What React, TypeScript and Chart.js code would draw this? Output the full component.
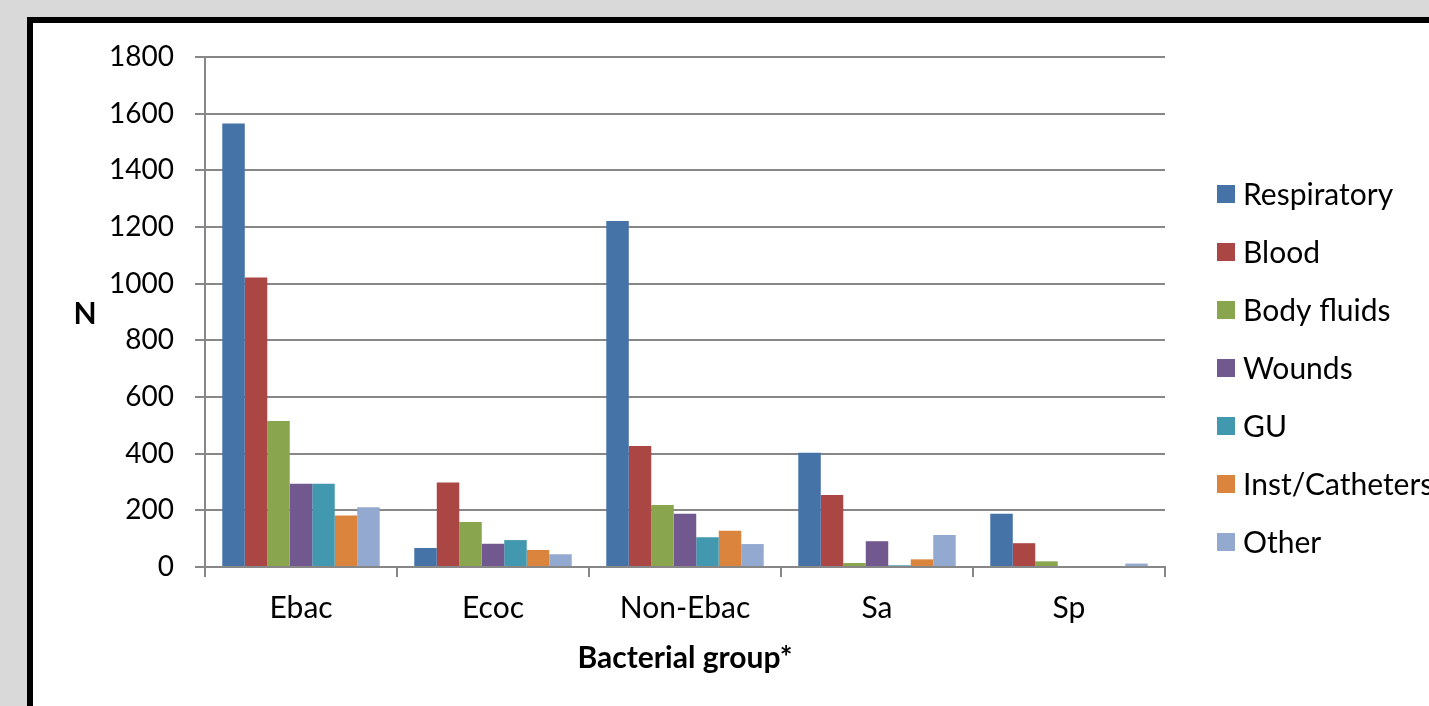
import React, { useEffect, useRef } from "react";
import { Chart, registerables } from "chart.js";

Chart.register(...registerables);

// ---- data ----
const categories = ["Ebac", "Ecoc", "Non-Ebac", "Sa", "Sp"];
const seriesNames = ["Respiratory", "Blood", "Body fluids", "Wounds", "GU", "Inst/Catheters", "Other"];
const respiratory = [1565, 67, 1221, 403, 188];
const blood = [1022, 298, 427, 254, 84];
const bodyFluids = [515, 159, 219, 14, 20];
const wounds = [294, 82, 188, 91, 0];
const gu = [294, 95, 105, 6, 0];
const instCatheters = [182, 60, 128, 27, 0];
const other = [211, 45, 81, 113, 12];
const seriesValues = [respiratory, blood, bodyFluids, wounds, gu, instCatheters, other];
const seriesColors = ["#4572A7", "#AA4643", "#89A54E", "#71588F", "#4198AF", "#DB843D", "#93A9CF"];
const yMin = 0;
const yMax = 1800;
const yStep = 200;
const yTitle = "N";
const xTitle = "Bacterial group*";

// ---- styling ----
const FONT = "Lato, 'Noto Sans', sans-serif";
const FS = 30;
const GRID = "#878787";

const sidePlugin = {
  id: "sideLegendAndYTitle",
  afterDraw(chart: any) {
    const ctx = chart.ctx;
    ctx.save();
    ctx.textBaseline = "middle";
    chart.data.datasets.forEach((ds: any, i: number) => {
      const cy = 194 + i * 58;
      ctx.fillStyle = ds.backgroundColor;
      ctx.fillRect(1217, cy - 9, 18, 18);
      ctx.fillStyle = "#000";
      ctx.font = `${FS}px ${FONT}`;
      ctx.textAlign = "left";
      ctx.fillText(ds.label, 1243, cy + 1);
    });
    ctx.font = `bold ${FS}px ${FONT}`;
    ctx.textAlign = "center";
    ctx.fillStyle = "#000";
    ctx.fillText(yTitle, 85, 314);
    ctx.restore();
  },
};

export default function App() {
  const ref = useRef<HTMLCanvasElement>(null);
  useEffect(() => {
    const canvas = ref.current!;
    const chart = new Chart(canvas, {
      type: "bar",
      data: {
        labels: categories,
        datasets: seriesNames.map((name, i) => ({
          label: name,
          data: seriesValues[i],
          backgroundColor: seriesColors[i],
          borderWidth: 0,
          categoryPercentage: 0.82,
          barPercentage: 1.0,
        })),
      },
      plugins: [sidePlugin],
      options: {
        responsive: false,
        animation: false,
        devicePixelRatio: 1,
        layout: { padding: { left: 0, right: 264, top: 57, bottom: 0 } },
        plugins: { legend: { display: false }, tooltip: { enabled: false } },
        scales: {
          x: {
            afterFit: (s: any) => { s.height = 139; },
            grid: { display: true, drawOnChartArea: false, tickLength: 10, color: GRID, lineWidth: 2, offset: true },
            border: { display: true, color: GRID, width: 2 },
            ticks: { color: "#000", font: { family: FONT, size: FS }, padding: 13 },
            title: {
              display: true,
              text: xTitle,
              color: "#000",
              font: { family: FONT, size: FS, weight: "bold" },
              padding: { top: 0, bottom: 30 },
            },
          },
          y: {
            min: yMin,
            max: yMax,
            afterFit: (s: any) => { s.width = 205; },
            grid: { color: GRID, lineWidth: 2, tickLength: 10 },
            border: { display: true, color: GRID, width: 2 },
            ticks: {
              stepSize: yStep,
              color: "#000",
              font: { family: FONT, size: 28 },
              padding: 21,
              callback: (v: any) => String(v),
            },
          },
        },
      },
    } as any);
    return () => chart.destroy();
  }, []);

  return (
    <div style={{ position: "fixed", left: 0, top: 0, width: 1429, height: 706, background: "#d9d9d9", overflow: "hidden" }}>
      <div
        style={{
          position: "absolute",
          left: 27,
          top: 17,
          width: 1500,
          height: 800,
          background: "#fff",
          borderLeft: "6px solid #000",
          borderTop: "6px solid #000",
        }}
      />
      <canvas ref={ref} width={1429} height={706} style={{ position: "absolute", left: 0, top: 0, width: 1429, height: 706 }} />
    </div>
  );
}
